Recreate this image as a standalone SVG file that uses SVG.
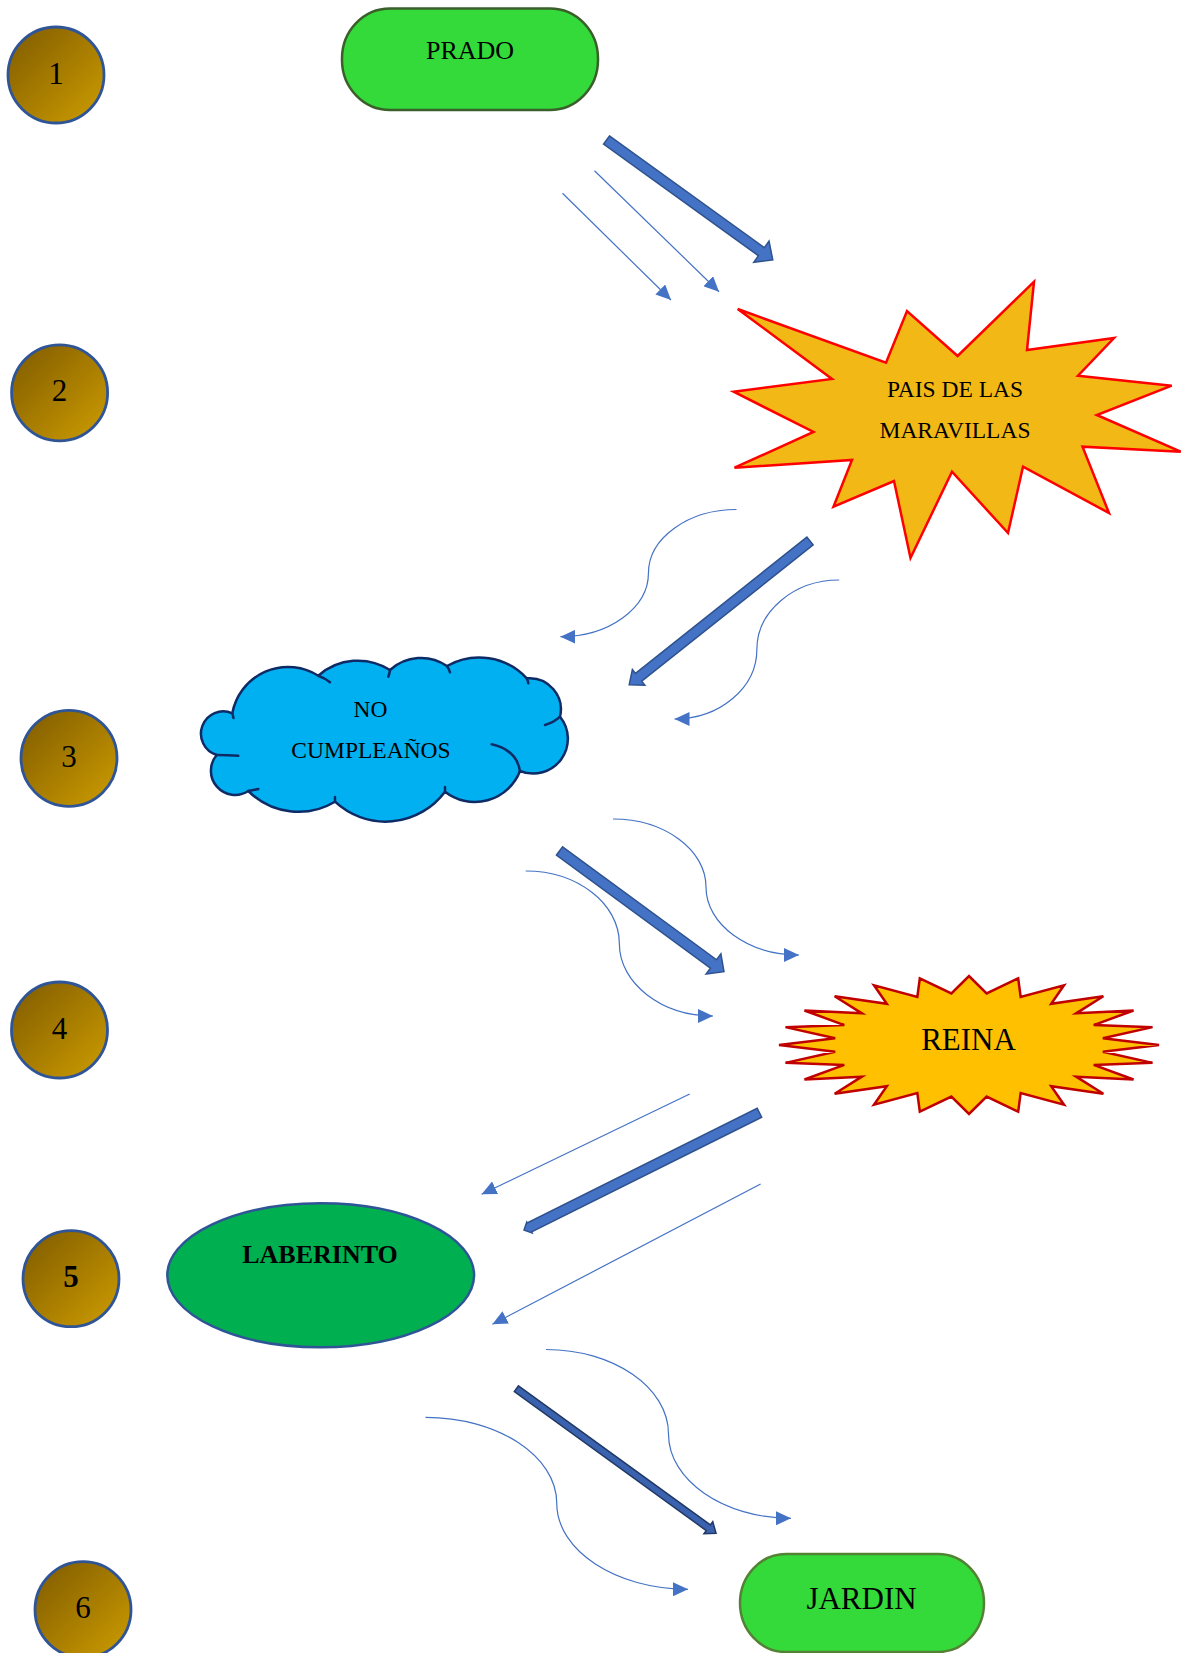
<svg xmlns="http://www.w3.org/2000/svg" width="1182" height="1653" viewBox="0 0 1182 1653">
<defs>
<linearGradient id="gold" x1="0.15" y1="0.15" x2="0.85" y2="0.85">
<stop offset="0" stop-color="#8A6400"/>
<stop offset="1" stop-color="#C29300"/>
</linearGradient>
<marker id="ah" markerUnits="userSpaceOnUse" markerWidth="16" markerHeight="14" refX="15" refY="7" orient="auto">
<path d="M0,0 L15,7 L0,14 z" fill="#4472C4"/>
</marker>
<style>
.num{fill:url(#gold);stroke:#2F5597;stroke-width:2.8}
.t{font-family:"Liberation Serif","Times New Roman",serif;fill:#000;text-anchor:middle}
.n{font-size:31px}
.thin{fill:none;stroke:#4472C4;stroke-width:1.2;marker-end:url(#ah)}
.block{fill:#4472C4;stroke:#2F528F;stroke-width:1.5}
.cl{fill:none;stroke:#0F2B66;stroke-width:2.5;stroke-linecap:round}
</style>
</defs>
<rect width="1182" height="1653" fill="#fff"/>

<g id="connectors">
<line class="thin" x1="562.5" y1="193.3" x2="671" y2="300"/>
<line class="thin" x1="594.5" y1="170.7" x2="719" y2="291.7"/>
<polygon class="block" points="0,-5 191,-5 191,-13 205,0 191,13 191,5 0,5" transform="translate(606.5,140) rotate(35.8)"/>
<path class="thin" d="M736.5,509.5 C688.1,509.5 648.45,538.1 648.45,573.1 C648.45,608.1 608.8,636.7 560.4,636.7"/>
<path class="thin" d="M839.2,580 C793.9,580 756.85,611.3 756.85,649.5 C756.85,687.7 719.8,719 674.5,719"/>
<polygon class="block" points="0,-5 219,-5 219,-10 231,0 219,10 219,5 0,5" transform="translate(810,541) rotate(141.5)"/>
<path class="thin" d="M613,819 C664.2,819 706,849.6 706,887 C706,924.4 747.8,955 799,955"/>
<path class="thin" d="M525.7,871 C577.2,871 619.35,903.6 619.35,943.5 C619.35,983.4 661.5,1016 713,1016"/>
<polygon class="block" points="0,-5.2 191,-5.2 191,-12.5 204,0 191,12.5 191,5.2 0,5.2" transform="translate(559.5,851) rotate(36.27)"/>
<line class="thin" x1="689.7" y1="1094" x2="481.6" y2="1194.3"/>
<line class="thin" x1="760.6" y1="1184" x2="492.4" y2="1324.3"/>
<polygon class="block" points="0,-5 257,-5 257,-6 263,0 257,6 257,5 0,5" transform="translate(759.4,1112.8) rotate(153.5)"/>
<path class="thin" d="M546,1349.5 C613.4,1349.5 668.5,1387.5 668.5,1433.9 C668.5,1480.3 723.6,1518.3 791,1518.3"/>
<path class="thin" d="M425.5,1417.3 C497.7,1417.3 556.75,1456 556.75,1503.3 C556.75,1550.6 615.8,1589.3 688,1589.3"/>
<polygon points="0,-3.5 237,-3.5 237,-7.5 246.5,0 237,7.5 237,3.5 0,3.5" transform="translate(516.4,1388.7) rotate(35.92)" fill="#3A62AE" stroke="#203864" stroke-width="1.5"/>
</g>

<g id="n1"><circle class="num" cx="56" cy="75" r="48"/><text class="t n" x="56" y="83.5">1</text></g>
<g id="n2"><circle class="num" cx="59.6" cy="392.8" r="48"/><text class="t n" x="59.6" y="401.3">2</text></g>
<g id="n3"><circle class="num" cx="69" cy="758.3" r="48"/><text class="t n" x="69" y="766.8">3</text></g>
<g id="n4"><circle class="num" cx="59.5" cy="1030" r="48"/><text class="t n" x="59.5" y="1038.5">4</text></g>
<g id="n5"><circle class="num" cx="71" cy="1278.7" r="48"/><text class="t n" x="71" y="1287.2" font-weight="bold">5</text></g>
<g id="n6"><circle class="num" cx="83" cy="1609.7" r="48"/><text class="t n" x="83" y="1618.2">6</text></g>

<g id="prado">
<rect x="342" y="8.5" width="256" height="101.5" rx="48" ry="50" fill="#33DA3A" stroke="#3A5F2A" stroke-width="2.5"/>
<text class="t" x="470" y="59.3" font-size="26">PRADO</text>
</g>

<g id="pais">
<polygon points="737.7,309 886,362.7 907,311 957.6,356 1034,281.7 1027,350 1114,338 1078,375.7 1171.7,385.7 1096.8,415 1180.7,451.7 1082.5,446.7 1109,513 1023,466.7 1008,533 952,471.7 910.5,558 894,481 833.5,506.7 852,460 734.5,467.7 813.5,432 733.7,391.7 832,379" fill="#F2B916" stroke="#FF0000" stroke-width="2.5" stroke-linejoin="miter"/>
<text class="t" x="955" y="396.5" font-size="23.5">PAIS DE LAS</text>
<text class="t" x="955" y="438" font-size="23.5">MARAVILLAS</text>
</g>

<g id="cumple">
<path d="M232.3,713.3 A56.6,56.6 0 0,1 318.3,675.7 A59.8,59.8 0 0,1 390,670 A45.8,45.8 0 0,1 447,666 A65,65 0 0,1 526.7,678.3 A31.3,31.3 0 0,1 560,716.7 A34.8,34.8 0 0,1 520,771 A48.5,48.5 0 0,1 445,791.7 A74,74 0 0,1 335,801.7 A71,71 0 0,1 248.3,791 A24.2,24.2 0 0,1 216.7,755 A22.3,22.3 0 1,1 232.3,713.3 Z" fill="#00B0F0" stroke="#0F2B66" stroke-width="2.5"/>
<path class="cl" d="M232.3,713.3 L233.5,718"/>
<path class="cl" d="M318.3,675.7 Q325,678 330,682.3"/>
<path class="cl" d="M390,670 Q389.5,673.5 388.3,676.7"/>
<path class="cl" d="M447,666 Q449,669 450,672.3"/>
<path class="cl" d="M526.7,678.3 Q528,681 528.3,683.3"/>
<path class="cl" d="M560,716.7 Q554,722.5 545,725"/>
<path class="cl" d="M491.7,744.3 Q517,750 520,771.7"/>
<path class="cl" d="M445,791.7 L445,787"/>
<path class="cl" d="M335,801.7 L335,797"/>
<path class="cl" d="M248.3,791 L258.3,789"/>
<path class="cl" d="M216.7,755 Q228,755 238.3,755.7"/>
<text class="t" x="370.5" y="716.7" font-size="23.5">NO</text>
<text class="t" x="371" y="757.7" font-size="23.5">CUMPLEAÑOS</text>
</g>

<g id="reina">
<polygon points="1159,1045 1102.84,1038.21 1152.53,1027.14 1093.72,1025.1 1133.54,1010.5 1076.1,1013.34 1103.35,996.21 1051.18,1003.75 1064,985.24 1020.66,996.96 1018.18,978.35 986.62,993.45 969,976 951.38,993.45 919.82,978.35 917.34,996.96 874,985.24 886.82,1003.75 834.65,996.21 861.9,1013.34 804.46,1010.5 844.28,1025.1 785.47,1027.14 835.16,1038.21 779,1045 835.16,1051.79 785.47,1062.86 844.28,1064.9 804.46,1079.5 861.9,1076.66 834.65,1093.79 886.82,1086.25 874,1104.76 917.34,1093.04 919.82,1111.65 951.38,1096.55 969,1114 986.62,1096.55 1018.18,1111.65 1020.66,1093.04 1064,1104.76 1051.18,1086.25 1103.35,1093.79 1076.1,1076.66 1133.54,1079.5 1093.72,1064.9 1152.53,1062.86 1102.84,1051.79" fill="#FFC000" stroke="#C00000" stroke-width="2.5"/>
<text class="t" x="968.5" y="1050" font-size="31">REINA</text>
</g>

<g id="laberinto">
<ellipse cx="320.7" cy="1275.3" rx="153.4" ry="72" fill="#00B050" stroke="#2F5597" stroke-width="2.5"/>
<text class="t" x="320" y="1263.3" font-size="26" font-weight="bold">LABERINTO</text>
</g>

<g id="jardin">
<rect x="740" y="1554" width="244" height="98" rx="46" ry="49" fill="#33DA3A" stroke="#548235" stroke-width="2.5"/>
<text class="t" x="861.5" y="1609.3" font-size="31">JARDIN</text>
</g>
</svg>
